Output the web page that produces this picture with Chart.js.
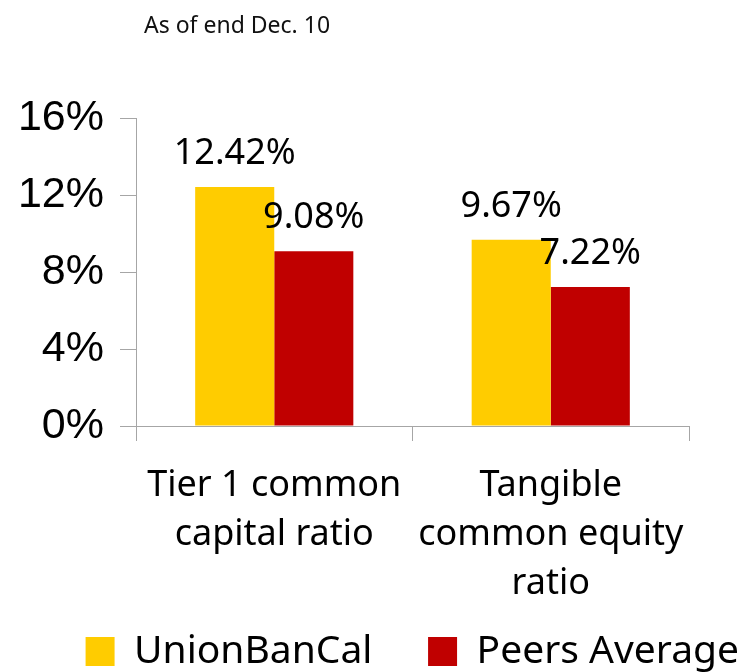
<!DOCTYPE html>
<html>
<head>
<meta charset="utf-8">
<script src="https://cdn.jsdelivr.net/npm/chart.js@4"></script>
<style>
  body { margin: 0; background: #fff; }
  #wrap { position: relative; width: 744px; height: 672px; }
  #note { position: absolute; left: 144px; top: 13px; font: 23px/1 "Noto Sans"; color: #111; }
</style>
</head>
<body>
<div id="wrap">
  <div id="note">As of end Dec. 10</div>
  <canvas id="chart"></canvas>
</div>
<script>
// Capital ratios, as of end Dec. 10
const categories = [['Tier 1 common', 'capital ratio'], ['Tangible', 'common equity', 'ratio']];
const unionBanCal = [12.42, 9.67];
const peersAverage = [9.08, 7.22];
const yTicks = [0, 4, 8, 12, 16];

// value labels above each bar
const valueLabels = {
    id: 'valueLabels',
    afterDatasetsDraw(chart) {
        const ctx = chart.ctx;
        ctx.save();
        ctx.font = '36px "Noto Sans"';
        ctx.fillStyle = '#000';
        ctx.textAlign = 'center';
        ctx.textBaseline = 'alphabetic';
        chart.data.datasets.forEach((ds, i) => {
            chart.getDatasetMeta(i).data.forEach((bar, j) => {
                ctx.fillText(ds.data[j].toFixed(2) + '%', bar.x, bar.y - 23);
            });
        });
        ctx.restore();
    }
};

new Chart(document.getElementById('chart'), {
    type: 'bar',
    data: {
        labels: categories,
        datasets: [
            { label: 'UnionBanCal', data: unionBanCal, backgroundColor: '#FFCC00' },
            { label: 'Peers Average', data: peersAverage, backgroundColor: '#C00000' }
        ]
    },
    options: {
        responsive: true,
        maintainAspectRatio: false,
        animation: false,
        layout: { padding: { left: 0, right: 0, top: 118, bottom: -9 } },
        datasets: { bar: { categoryPercentage: 0.572, barPercentage: 1 } },
        scales: {
            x: {
                afterFit: a => { a.height = 201; },
                grid: { drawOnChartArea: false, tickLength: 15, color: '#a6a6a6', offset: true },
                border: { color: '#a6a6a6' },
                ticks: { color: '#000', padding: 20, maxRotation: 0, font: { family: 'Noto Sans', size: 36, lineHeight: 1.36 } }
            },
            y: {
                min: 0, max: 16,
                afterBuildTicks: axis => { axis.ticks = yTicks.map(v => ({ value: v })); },
                afterFit: a => { a.width = 136; },
                grid: { drawOnChartArea: false, tickLength: 16, color: '#a6a6a6' },
                border: { color: '#a6a6a6' },
                ticks: { color: '#000', padding: 16, callback: v => v + '%', font: { family: 'Liberation Sans', size: 43 } }
            },
            // empty right-hand spacer so the plot ends where the original does
            yRight: {
                position: 'right',
                afterFit: a => { a.width = 55; },
                grid: { display: false },
                border: { display: false },
                ticks: { display: false }
            }
        },
        plugins: {
            tooltip: { enabled: false },
            legend: {
                position: 'bottom',
                align: 'end',
                labels: {
                    color: '#000', boxWidth: 29, boxHeight: 29, padding: 5,
                    font: { family: 'Noto Sans', size: 39 },
                    // widen the first entry so the second starts where it does in the original
                    generateLabels: chart => {
                        const items = Chart.defaults.plugins.legend.labels.generateLabels(chart);
                        items[0].text += '     ';
                        return items;
                    }
                }
            }
        }
    },
    plugins: [valueLabels]
});
</script>
</body>
</html>
